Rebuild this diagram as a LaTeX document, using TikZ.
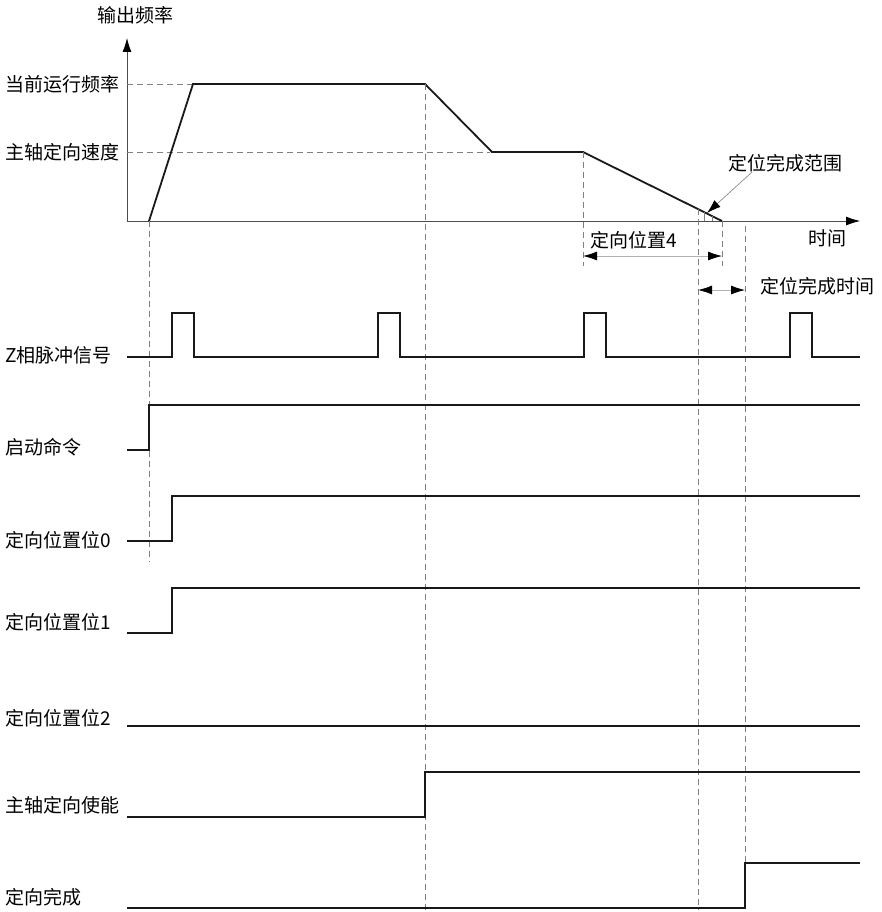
\documentclass[tikz,border=0pt]{standalone}
\usepackage{fontspec}
\newfontfamily\cjk{Noto Sans CJK SC}
\usetikzlibrary{arrows.meta}

\tikzset{
  signal/.style={line width=1.8pt, black!90, line join=miter},
  axis/.style={line width=0.8pt, black!70, -{Latex[length=14pt,width=9pt,black]}},
  guide/.style={gray, line width=0.7pt, dash pattern=on 6pt off 4pt},
  dim/.style={gray!60, line width=0.8pt,
    {Latex[length=14pt,width=9pt,black]}-{Latex[length=14pt,width=9pt,black]}},
  leader/.style={gray, line width=0.6pt, -{Latex[length=14pt,width=9pt,black]}},
  lbl/.style={anchor=west, inner sep=0pt, font=\cjk\fontsize{19}{21}\selectfont},
}

\begin{document}
\begin{tikzpicture}[x=1pt,y=-1pt]
\useasboundingbox (0,0) rectangle (882,912);

% Axes
\draw[axis] (127,221) -- (127,38);
\draw[axis] (127,221) -- (860,221);

\node[lbl] (fout) at (97,15) {输出频率};
\node[lbl] (ftime) at (808,238) {时间};
\node[lbl] (frun) at (5,84) {当前运行频率};
\node[lbl] (fori) at (5,152) {主轴定向速度};

% Level guides
\draw[guide] (127,84) -- (193,84);
\draw[guide] (127,152) -- (490,152);

% Frequency profile
\draw[signal] (149,221) -- (193,84) -- (425,84) -- (492,152)
  -- (583,152) -- (722,221);

% Completion range
\draw[gray, line width=0.5pt] (704,212) -- (704,221);
\draw[gray, line width=0.5pt] (712,216) -- (712,221);
\node[lbl] (range) at (728,163) {定位完成范围};
\coordinate (rangetip) at (707,213);
\draw[leader] ([xshift=24pt]range.south west) -- (rangetip);

% Time guides
\draw[guide] (149,221) -- (149,562);
\draw[guide] (425,84) -- (425,910);
\draw[guide] (583,152) -- (583,266);
\draw[guide] (698,209) -- (698,910);
\draw[guide] (722,221) -- (722,266);
\draw[guide] (745,226) -- (745,908);

% Dimensions
\coordinate (pos4a) at (583,256);
\coordinate (pos4b) at (722,256);
\draw[dim] (pos4a) -- (pos4b);
\node[lbl] (pos4) at (590,240) {定向位置4};

\coordinate (donea) at (698,290);
\coordinate (doneb) at (745,290);
\draw[dim] (donea) -- (doneb);
\node[lbl] (donet) at (760,286) {定位完成时间};

% Z phase pulse
\node[lbl] (zpulse) at (5,355) {Z相脉冲信号};
\draw[signal] (127,357) -- (172,357) -- (172,313) -- (194,313) -- (194,357)
  -- (378,357) -- (378,313) -- (400,313) -- (400,357)
  -- (584,357) -- (584,313) -- (606,313) -- (606,357)
  -- (790,357) -- (790,313) -- (812,313) -- (812,357) -- (860,357);

% Start command
\node[lbl] (start) at (5,447) {启动命令};
\draw[signal] (127,450) -- (149,450) -- (149,405) -- (860,405);

% Position bits
\node[lbl] (bit0) at (5,540) {定向位置位0};
\draw[signal] (127,541) -- (172,541) -- (172,496) -- (860,496);

\node[lbl] (bit1) at (5,622) {定向位置位1};
\draw[signal] (127,633) -- (172,633) -- (172,588) -- (860,588);

\node[lbl] (bit2) at (5,718) {定向位置位2};
\draw[signal] (127,726) -- (860,726);

% Orientation enable
\node[lbl] (enable) at (5,805) {主轴定向使能};
\draw[signal] (127,817) -- (425,817) -- (425,772) -- (860,772);

% Orientation done
\node[lbl] (done) at (5,897) {定向完成};
\draw[signal] (127,908) -- (745,908) -- (745,863) -- (860,863);

\end{tikzpicture}
\end{document}
